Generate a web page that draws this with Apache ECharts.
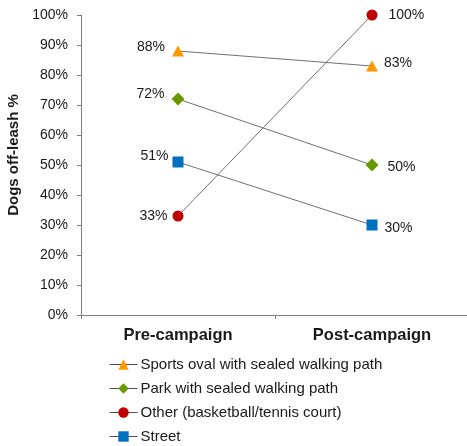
<!DOCTYPE html>
<html>
<head>
<meta charset="utf-8">
<script src="https://cdn.jsdelivr.net/npm/echarts@6/dist/echarts.min.js"></script>
<style>
  html, body { margin: 0; padding: 0; background: #fff; }
  #chart { width: 467px; height: 446px; }
</style>
</head>
<body>
<div id="chart"></div>
<script>
// Share of dogs seen off-leash, before and after the campaign
const periods = ['Pre-campaign', 'Post-campaign'];
const seriesNames = [
  'Sports oval with sealed walking path',
  'Park with sealed walking path',
  'Other (basketball/tennis court)',
  'Street'
];
const sportsOval = [88, 83];
const park = [72, 50];
const other = [33, 100];
const street = [51, 30];
const yTicks = [0, 10, 20, 30, 40, 50, 60, 70, 80, 90, 100];

// Marker look for each series
const markerStyles = [
  { symbol: 'triangle', size: [12, 11], color: '#FF9900' },
  { symbol: 'diamond', size: 13, color: '#669900' },
  { symbol: 'circle', size: 11, color: '#C00000' },
  { symbol: 'rect', size: 11, color: '#0070C0' }
];
// Value-label placement per point: [distance, dy] (pre on the left, post on the right)
const labelPlacement = [
  [[7, -4], [6, -3]],
  [[7, -5], [9, 2]],
  [[5, 0], [11, 0]],
  [[4, -6], [7, 3]]
];
const allValues = [sportsOval, park, other, street];

const font = 'Arial, "Liberation Sans", sans-serif';

function pointData(values, place) {
  return values.map((v, i) => ({
    value: v,
    label: {
      position: i === 0 ? 'left' : 'right',
      distance: place[i][0],
      offset: [0, place[i][1]]
    }
  }));
}

const series = seriesNames.map((name, k) => ({
  name,
  type: 'line',
  data: pointData(allValues[k], labelPlacement[k]),
  symbol: markerStyles[k].symbol,
  symbolSize: markerStyles[k].size,
  itemStyle: { color: markerStyles[k].color, borderWidth: 0 },
  lineStyle: { color: '#707070', width: 1 },
  label: {
    show: true,
    formatter: p => p.value + '%',
    fontFamily: font,
    fontSize: 14,
    color: '#1a1a1a'
  },
  emphasis: { disabled: true },
  animation: false
}));

const chart = echarts.init(document.getElementById('chart'));
chart.setOption({
  animation: false,
  grid: { left: 81, right: -2, top: 15, bottom: 131, outerBoundsMode: 'none', containLabel: false },
  xAxis: {
    type: 'category',
    data: periods,
    boundaryGap: true,
    axisLine: { lineStyle: { color: '#7f7f7f', width: 1 } },
    axisTick: { show: true, length: 4, lineStyle: { color: '#7f7f7f' } },
    axisLabel: { fontFamily: font, fontSize: 16.5, fontWeight: 'bold', color: '#1a1a1a', margin: 12 },
    splitLine: { show: false }
  },
  yAxis: {
    type: 'value',
    min: yTicks[0],
    max: yTicks[yTicks.length - 1],
    interval: 10,
    name: 'Dogs off-leash %',
    nameLocation: 'middle',
    nameGap: 56,
    nameRotate: 90,
    nameTextStyle: { fontFamily: font, fontSize: 15, fontWeight: 'bold', color: '#1a1a1a', padding: [0, 0, 0, 20] },
    axisLine: { show: true, lineStyle: { color: '#7f7f7f', width: 1 } },
    axisTick: { show: true, length: 4, lineStyle: { color: '#7f7f7f' } },
    axisLabel: { formatter: '{value}%', fontFamily: font, fontSize: 14, color: '#1a1a1a', margin: 13 },
    splitLine: { show: false }
  },
  legend: {
    orient: 'vertical',
    left: 104,
    top: 352,
    height: 110,
    itemGap: 9,
    itemWidth: 28,
    itemHeight: 13,
    lineStyle: { width: 1, color: '#505050' },
    textStyle: { fontFamily: font, fontSize: 15, color: '#1a1a1a', padding: [0, 0, 0, -2] },
    data: seriesNames
  },
  series
});
</script>
</body>
</html>
